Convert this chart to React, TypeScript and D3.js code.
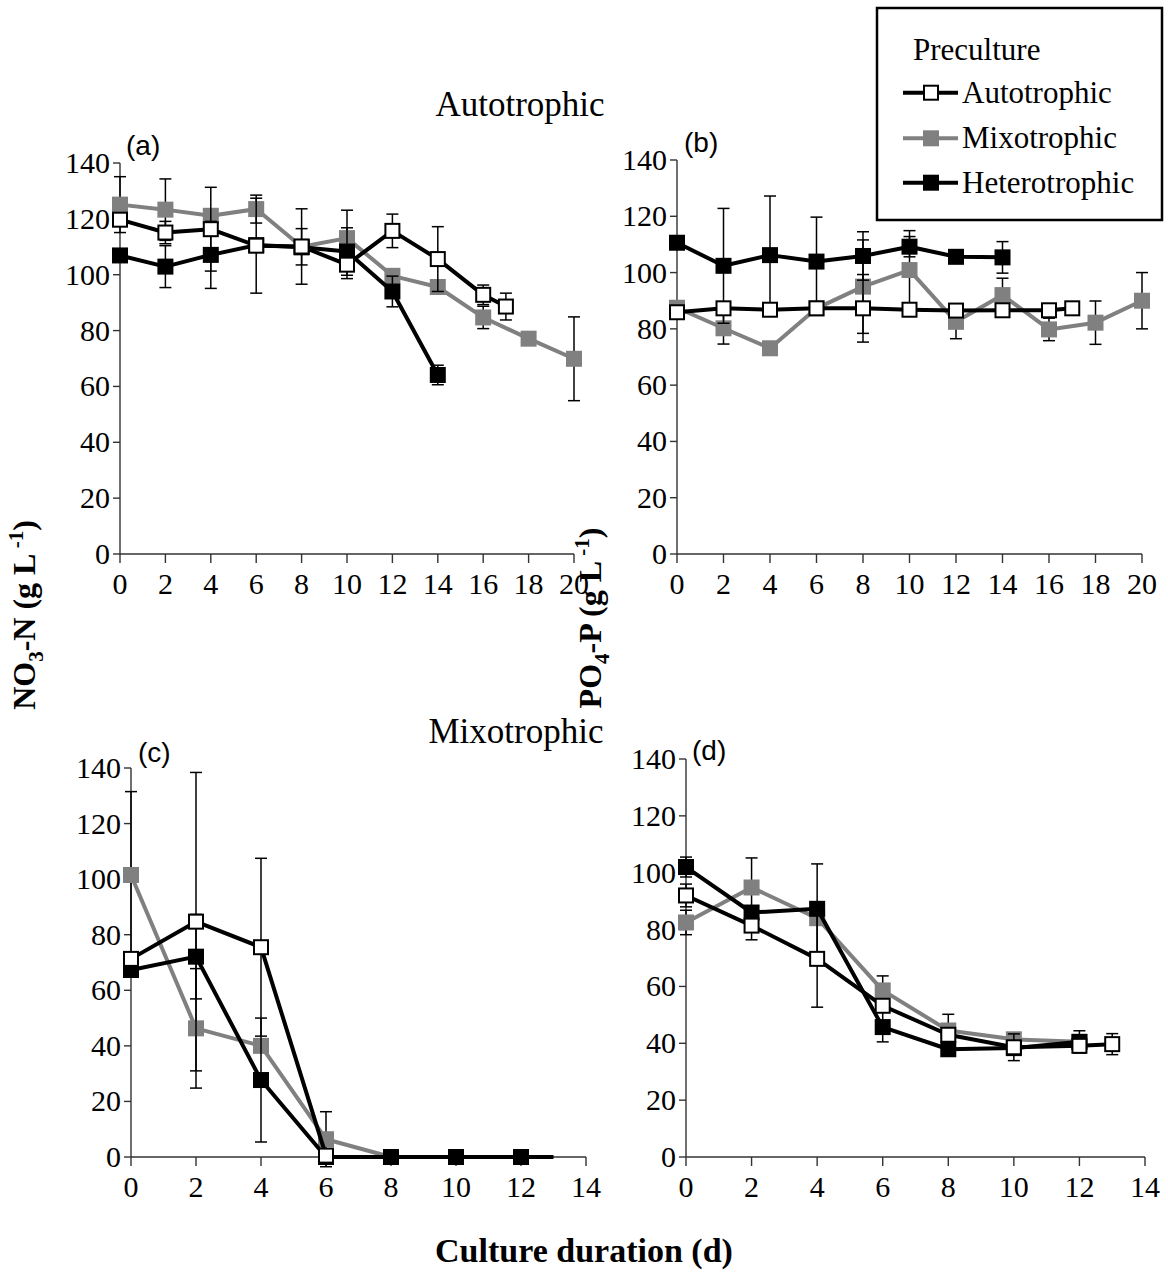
import React from 'react';
import * as d3 from 'd3';

// ---- data ----
// panel (a) NO3-N, autotrophic culture
const aAutoX = [0, 2, 4, 6, 8, 10, 12, 14, 16, 17];
const aAutoY = [119.7, 115.1, 116.3, 110.4, 110.1, 103.6, 115.7, 105.6, 92.8, 88.6];
const aAutoE = [0, 4, 15, 17, 13.5, 5, 6, 11.6, 3.5, 4.8];
const aMixoX = [0, 2, 4, 6, 8, 10, 12, 14, 16, 18, 20];
const aMixoY = [125.1, 123.3, 121.1, 123.5, 110, 113.1, 99.6, 95.6, 84.7, 77.1, 69.9];
const aMixoE = [10, 11, 0, 5, 6.5, 10, 0, 0, 4, 0, 15];
const aHetX = [0, 2, 4, 6, 8, 10, 12, 14];
const aHetY = [106.9, 102.9, 107.1, 110.6, 109.8, 108.3, 94, 64.1];
const aHetE = [0, 7.5, 12, 0, 0, 8.5, 5.5, 3.5];

// panel (b) PO4-P, autotrophic culture
const bAutoX = [0, 2, 4, 6, 8, 10, 12, 14, 16, 17];
const bAutoY = [85.9, 87.3, 86.8, 87.3, 87.3, 86.8, 86.5, 86.6, 86.6, 87.3];
const bAutoE = [0, 0, 0, 0, 12, 0, 0, 0, 0, 0];
const bMixoX = [0, 2, 4, 6, 8, 10, 12, 14, 16, 18, 20];
const bMixoY = [87.5, 80.2, 73.1, 87.3, 95, 100.9, 82.5, 92, 79.8, 82.2, 90];
const bMixoE = [0, 5.6, 0, 0, 16.6, 14, 6, 6, 4, 7.7, 10];
const bHetX = [0, 2, 4, 6, 8, 10, 12, 14];
const bHetY = [110.6, 102.4, 106.2, 103.9, 105.9, 109.2, 105.6, 105.4];
const bHetE = [0, 20.4, 21, 15.8, 8.6, 3.6, 0, 5.6];

// panel (c) NO3-N, mixotrophic culture
const cAutoX = [0, 2, 4, 6];
const cAutoY = [71.3, 84.7, 75.5, 0.5];
const cAutoE = [0, 53.7, 32, 0];
const cMixoX = [0, 2, 4, 6, 8];
const cMixoY = [101.5, 46.3, 40, 6.4, 0];
const cMixoE = [30, 21.5, 0, 9.9, 0];
const cHetX = [0, 2, 4, 6, 8, 10, 12, 13];
const cHetY = [67.3, 72.1, 27.7, 0, 0, 0, 0, 0];
const cHetE = [0, 15.2, 22.3, 0, 0, 0, 0, 0];
const cHetMarker = [true, true, true, true, true, true, true, false];

// panel (d) PO4-P, mixotrophic culture
const dAutoX = [0, 2, 4, 6, 8, 10, 12, 13];
const dAutoY = [92, 81.4, 69.7, 53.2, 43, 38.6, 39.1, 39.7];
const dAutoE = [4, 5, 17, 0, 0, 4.7, 0, 3.7];
const dMixoX = [0, 2, 4, 6, 8, 10, 12];
const dMixoY = [82.5, 94.8, 84, 58.6, 44.5, 41.4, 40.5];
const dMixoE = [4.3, 10.4, 0, 5.1, 5.7, 0, 0];
const dHetX = [0, 2, 4, 6, 8, 10, 12];
const dHetY = [102, 86, 87.3, 45.7, 37.9, 38.3, 40.5];
const dHetE = [3.5, 0, 15.8, 5.2, 0, 0, 3.9];

const yTicks = [0, 20, 40, 60, 80, 100, 120, 140];
const xTicks20 = [0, 2, 4, 6, 8, 10, 12, 14, 16, 18, 20];
const xTicks14 = [0, 2, 4, 6, 8, 10, 12, 14];
const legendNames = ['Autotrophic', 'Mixotrophic', 'Heterotrophic'];

const SERIF = '"Liberation Serif", "Times New Roman", serif';
const SANS = '"Liberation Sans", Arial, sans-serif';
const GRAY = '#808080';
const AXIS = '#333';

type Kind = 'auto' | 'mixo' | 'het';
type Series = { kind: Kind; x: number[]; y: number[]; e: number[]; marker?: boolean[] };

const style = {
  auto: { line: '#000', fill: '#fff', stroke: '#000' },
  mixo: { line: GRAY, fill: GRAY, stroke: 'none' },
  het: { line: '#000', fill: '#000', stroke: '#000' },
};

const panels = [
  {
    tag: '(a)', tagX: 126, tagY: 155, x0: 120, x1: 574, y0: 554, y1: 163, xMax: 20, xTicks: xTicks20,
    series: [
      { kind: 'mixo', x: aMixoX, y: aMixoY, e: aMixoE },
      { kind: 'het', x: aHetX, y: aHetY, e: aHetE },
      { kind: 'auto', x: aAutoX, y: aAutoY, e: aAutoE },
    ] as Series[],
  },
  {
    tag: '(b)', tagX: 684, tagY: 152, x0: 677, x1: 1142, y0: 554, y1: 160, xMax: 20, xTicks: xTicks20,
    series: [
      { kind: 'mixo', x: bMixoX, y: bMixoY, e: bMixoE },
      { kind: 'het', x: bHetX, y: bHetY, e: bHetE },
      { kind: 'auto', x: bAutoX, y: bAutoY, e: bAutoE },
    ] as Series[],
  },
  {
    tag: '(c)', tagX: 138, tagY: 762, x0: 131, x1: 586, y0: 1157, y1: 768, xMax: 14, xTicks: xTicks14,
    series: [
      { kind: 'mixo', x: cMixoX, y: cMixoY, e: cMixoE },
      { kind: 'het', x: cHetX, y: cHetY, e: cHetE, marker: cHetMarker },
      { kind: 'auto', x: cAutoX, y: cAutoY, e: cAutoE },
    ] as Series[],
  },
  {
    tag: '(d)', tagX: 692, tagY: 760, x0: 686, x1: 1145, y0: 1157, y1: 759, xMax: 14, xTicks: xTicks14,
    series: [
      { kind: 'mixo', x: dMixoX, y: dMixoY, e: dMixoE },
      { kind: 'het', x: dHetX, y: dHetY, e: dHetE },
      { kind: 'auto', x: dAutoX, y: dAutoY, e: dAutoE },
    ] as Series[],
  },
];

const MS = 16; // marker size

function Marker({ kind, cx, cy }: { kind: Kind; cx: number; cy: number }) {
  const s = style[kind];
  const size = kind === 'auto' ? MS - 2 : MS;
  return (
    <rect x={cx - size / 2} y={cy - size / 2} width={size} height={size}
      fill={s.fill} stroke={s.stroke} strokeWidth={kind === 'auto' ? 2 : 0} />
  );
}

function Panel({ p }: { p: typeof panels[number] }) {
  const x = d3.scaleLinear().domain([0, p.xMax]).range([p.x0, p.x1]);
  const y = d3.scaleLinear().domain([0, 140]).range([p.y0, p.y1]);
  const line = d3.line<[number, number]>().x(d => x(d[0])).y(d => y(d[1]));
  return (
    <g>
      {/* axes */}
      <line x1={p.x0} x2={p.x0} y1={y(140)} y2={p.y0} stroke={AXIS} strokeWidth={1.4} />
      <line x1={p.x0} x2={p.x1} y1={p.y0} y2={p.y0} stroke={AXIS} strokeWidth={1.4} />
      {yTicks.map(t => (
        <g key={'y' + t}>
          <line x1={p.x0 - 7} x2={p.x0} y1={y(t)} y2={y(t)} stroke={AXIS} strokeWidth={1.4} />
          <text x={p.x0 - 10} y={y(t) + 10} textAnchor="end" fontFamily={SERIF} fontSize={30}>{t}</text>
        </g>
      ))}
      {p.xTicks.map(t => (
        <g key={'x' + t}>
          <line x1={x(t)} x2={x(t)} y1={p.y0} y2={p.y0 + 9} stroke={AXIS} strokeWidth={1.4} />
          <text x={x(t)} y={p.y0 + 40} textAnchor="middle" fontFamily={SERIF} fontSize={30}>{t}</text>
        </g>
      ))}
      <text x={p.tagX} y={p.tagY} fontFamily={SANS} fontSize={28}>{p.tag}</text>
      {p.series.map((s, si) => {
        const pts = s.x.map((v, i) => [v, s.y[i]] as [number, number]);
        return (
          <g key={si}>
            {pts.map((d, i) => s.e[i] > 0 ? (
              <g key={'e' + i} stroke="#000" strokeWidth={1.5}>
                <line x1={x(d[0])} x2={x(d[0])} y1={y(d[1] - s.e[i])} y2={y(d[1] + s.e[i])} />
                <line x1={x(d[0]) - 6} x2={x(d[0]) + 6} y1={y(d[1] - s.e[i])} y2={y(d[1] - s.e[i])} />
                <line x1={x(d[0]) - 6} x2={x(d[0]) + 6} y1={y(d[1] + s.e[i])} y2={y(d[1] + s.e[i])} />
              </g>
            ) : null)}
            <path d={line(pts) || ''} fill="none" stroke={style[s.kind].line} strokeWidth={4} strokeLinejoin="round" />
            {pts.map((d, i) => (s.marker && !s.marker[i]) ? null : (
              <Marker key={'m' + i} kind={s.kind} cx={x(d[0])} cy={y(d[1])} />
            ))}
          </g>
        );
      })}
    </g>
  );
}

export default function App() {
  const legendRows = [92.7, 138.3, 182.7];
  const legendKinds: Kind[] = ['auto', 'mixo', 'het'];
  return (
    <svg width={1168} height={1288} style={{ position: 'absolute', left: 0, top: 0, background: '#fff' }}>
      <rect width={1168} height={1288} fill="#fff" />
      {panels.map(p => <Panel key={p.tag} p={p} />)}

      <text x={520} y={116} textAnchor="middle" fontFamily={SERIF} fontSize={35}>Autotrophic</text>
      <text x={516} y={743} textAnchor="middle" fontFamily={SERIF} fontSize={35}>Mixotrophic</text>

      <text transform="translate(35,615) rotate(-90)" textAnchor="middle" fontFamily={SERIF} fontSize={32} fontWeight="bold">
        NO<tspan dy={8} fontSize={21}>3</tspan><tspan dy={-8}>-N (g L</tspan><tspan dy={-12} fontSize={21}> -1</tspan><tspan dy={12}>)</tspan>
      </text>
      <text transform="translate(601,618) rotate(-90)" textAnchor="middle" fontFamily={SERIF} fontSize={32} fontWeight="bold">
        PO<tspan dy={8} fontSize={21}>4</tspan><tspan dy={-8}>-P (g L</tspan><tspan dy={-12} fontSize={21}> -1</tspan><tspan dy={12}>)</tspan>
      </text>
      <text x={584} y={1262} textAnchor="middle" fontFamily={SERIF} fontSize={34} fontWeight="bold">Culture duration (d)</text>

      {/* legend */}
      <rect x={877} y={8} width={285} height={212} fill="#fff" stroke="#000" strokeWidth={2.5} />
      <text x={913} y={60} fontFamily={SERIF} fontSize={31}>Preculture</text>
      {legendNames.map((n, i) => (
        <g key={n}>
          <line x1={903} x2={958} y1={legendRows[i]} y2={legendRows[i]} stroke={style[legendKinds[i]].line} strokeWidth={4} />
          <Marker kind={legendKinds[i]} cx={931} cy={legendRows[i]} />
          <text x={962} y={legendRows[i] + 10} fontFamily={SERIF} fontSize={31}>{n}</text>
        </g>
      ))}
    </svg>
  );
}
